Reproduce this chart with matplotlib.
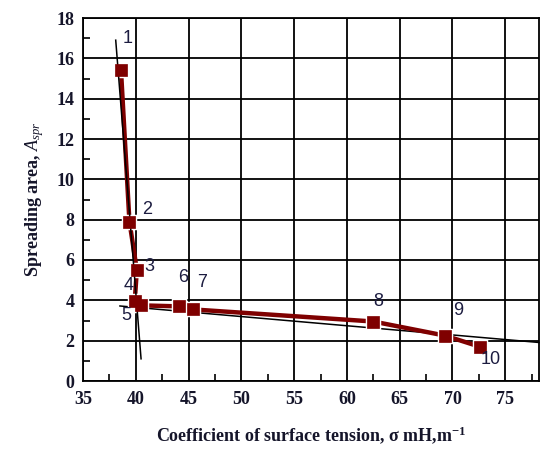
import matplotlib
matplotlib.use("Agg")
import matplotlib.pyplot as plt
from matplotlib.ticker import MultipleLocator

plt.rcParams["mathtext.fontset"] = "custom"
plt.rcParams["mathtext.rm"] = "Liberation Serif:bold"
plt.rcParams["mathtext.bf"] = "Liberation Serif:bold"
plt.rcParams["mathtext.it"] = "Liberation Serif:italic"

# Data
sigma = [38.6, 39.4, 40.1, 39.9, 40.5, 44.1, 45.4, 62.5, 69.3, 72.6]
area = [15.4, 7.9, 5.5, 3.95, 3.75, 3.7, 3.55, 2.95, 2.25, 1.7]
labels = ["1", "2", "3", "4", "5", "6", "7", "8", "9", "10"]
label_x = [39.25, 41.1, 41.25, 39.3, 39.1, 44.5, 46.3, 63.0, 70.5, 73.65]
label_y = [17.0, 8.5, 5.7, 4.75, 3.27, 5.14, 4.87, 3.93, 3.52, 1.07]

# Fit lines (end points)
steep_x = [38.1, 40.5]
steep_y = [16.9, 1.1]
flat_x = [38.5, 78.2]
flat_y = [3.72, 1.91]

dark_red = "#7f0000"

fig = plt.figure(figsize=(5.41, 4.53), dpi=100)
ax = fig.add_axes([83/541, 1 - 381/453, (539-83)/541, (381-18)/453])

ax.set_xlim(35, 78.2)
ax.set_ylim(0, 18)
ax.xaxis.set_major_locator(MultipleLocator(5))
ax.xaxis.set_minor_locator(MultipleLocator(2.5))
ax.yaxis.set_major_locator(MultipleLocator(2))
ax.yaxis.set_minor_locator(MultipleLocator(1))
ax.grid(True, which="major", color="black", linewidth=1.3)
ax.set_axisbelow(True)
for s in ax.spines.values():
    s.set_linewidth(1.3)
ax.tick_params(which="both", direction="in", width=1.2)
ax.tick_params(which="major", length=0)
ax.tick_params(which="minor", length=5)

ax.plot(sigma, area, color=dark_red, linewidth=3.2, marker="s", markersize=9,
        markerfacecolor=dark_red, markeredgecolor="white", markeredgewidth=2.5,
        zorder=3)
ax.plot(steep_x, steep_y, color="black", linewidth=1.1, zorder=4)
ax.plot(flat_x, flat_y, color="black", linewidth=1.1, zorder=2, clip_on=False)
ax.plot(sigma, area, color=dark_red, linestyle="none", marker="s", markersize=9,
        markerfacecolor=dark_red, markeredgecolor=dark_red, markeredgewidth=0.5,
        zorder=5)

for t, lx, ly in zip(labels, label_x, label_y):
    ax.text(lx, ly, t, fontsize=13, color="#1c1c40", ha="center", va="center",
            family="Liberation Sans", zorder=6)

for lab in ax.get_xticklabels() + ax.get_yticklabels():
    lab.set_family("Liberation Serif")
    lab.set_fontweight("bold")
    lab.set_fontsize(13)
    lab.set_color("#15152a")
ax.tick_params(axis="x", pad=7)
ax.tick_params(axis="y", pad=6)

ax.set_xlabel(r"Coefficient of surface tension, σ mH,m$^{-1}$",
              family="Liberation Serif", fontweight="bold", fontsize=13,
              labelpad=12, color="#15152a")
ax.set_ylabel(r"Spreading area, $A_{spr}$", family="Liberation Serif",
              fontweight="bold", fontsize=13, labelpad=8, color="#15152a")

fig.savefig("out.png", dpi=100)
